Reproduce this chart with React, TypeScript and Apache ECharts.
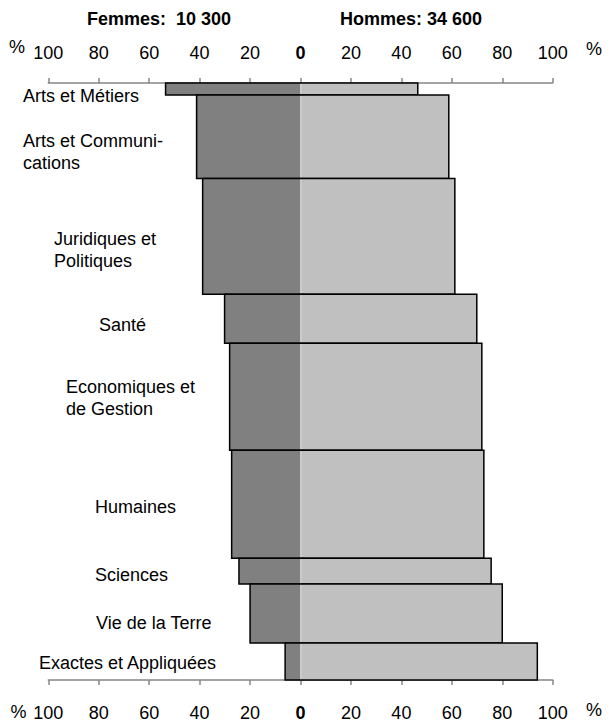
import React, { useEffect, useRef } from "react";
import * as echarts from "echarts";

// ---- data ----
const categories = [
  "Arts et Métiers",
  "Arts et Communi-\ncations",
  "Juridiques et\nPolitiques",
  "Santé",
  "Economiques et\nde Gestion",
  "Humaines",
  "Sciences",
  "Vie de la Terre",
  "Exactes et Appliquées",
];
// share of total (bar thickness, %)
const shares = [2.0, 14.0, 19.4, 8.2, 17.9, 18.1, 4.3, 9.9, 6.2];
// women % (left) and men % (right)
const women = [53.5, 41.2, 38.8, 30.1, 28.1, 27.3, 24.4, 20.0, 6.1];
const men = [46.5, 58.8, 61.2, 69.9, 71.9, 72.7, 75.6, 80.0, 93.9];
const titleWomen = "Femmes:  10 300";
const titleMen = "Hommes: 34 600";
const axisMin = -100;
const axisMax = 100;
const axisStep = 20;

// ---- layout (pixels) ----
const labelX = [23, 23, 54, 99, 66, 95, 95, 96, 39];
const labelDy = [7, 15.7, 13.5, 6.5, 1.5, 3, 4, 9.5, 1.5];

const FONT = '"Liberation Sans", Arial, Helvetica, sans-serif';

export default function App() {
  const ref = useRef<HTMLDivElement>(null);
  useEffect(() => {
    if (!ref.current) return;
    const chart = echarts.init(ref.current, undefined, { renderer: "svg" });
    const starts: number[] = [];
    let acc = 0;
    shares.forEach((s) => {
      starts.push(acc);
      acc += s;
    });
    const data = shares.map((s, i) => [starts[i], s, women[i], men[i]]);

    const labelFmt = (v: number) => (v === 0 ? "{b|0}" : String(Math.abs(v)));
    const mkAxis = (pos: "top" | "bottom", margin: number) => ({
      type: "value",
      position: pos,
      gridIndex: 0,
      min: axisMin,
      max: axisMax,
      interval: axisStep,
      axisLine: { show: true, onZero: false, lineStyle: { color: "#878787", width: 1.5 } },
      axisTick: { show: true, inside: false, length: 5, lineStyle: { color: "#878787", width: 1.5 } },
      splitLine: { show: false },
      axisLabel: {
        margin,
        formatter: labelFmt,
        fontSize: 18,
        fontFamily: FONT,
        color: "#000",
        rich: { b: { fontSize: 18, fontFamily: FONT, fontWeight: "bold", color: "#000" } },
      },
    });

    chart.setOption({
      animation: false,
      grid: { left: 48.3, right: 59.3, top: 83, bottom: 41, containLabel: false },
      xAxis: [mkAxis("top", 21), mkAxis("bottom", 24)],
      yAxis: { type: "value", min: 0, max: 100, inverse: true, show: false },
      graphic: [
        { type: "text", x: 87, y: 18.5, style: { text: titleWomen, fontSize: 18, fontWeight: "bold", fontFamily: FONT, fill: "#000", verticalAlign: "middle" } },
        { type: "text", x: 340, y: 18.5, style: { text: titleMen, fontSize: 18, fontWeight: "bold", fontFamily: FONT, fill: "#000", verticalAlign: "middle" } },
        { type: "text", x: 17, y: 47, style: { text: "%", fontSize: 18, fontFamily: FONT, fill: "#000", align: "center", verticalAlign: "middle" } },
        { type: "text", x: 594, y: 48.5, style: { text: "%", fontSize: 18, fontFamily: FONT, fill: "#000", align: "center", verticalAlign: "middle" } },
        { type: "text", x: 18.5, y: 711.5, style: { text: "%", fontSize: 18, fontFamily: FONT, fill: "#000", align: "center", verticalAlign: "middle" } },
        { type: "text", x: 594, y: 710, style: { text: "%", fontSize: 18, fontFamily: FONT, fill: "#000", align: "center", verticalAlign: "middle" } },
      ],
      series: [
        {
          type: "custom",
          xAxisIndex: 0,
          yAxisIndex: 0,
          clip: false,
          data,
          renderItem: (params: any, api: any) => {
            const i = params.dataIndex;
            const y0 = api.value(0);
            const h = api.value(1);
            const w = api.value(2);
            const m = api.value(3);
            const pL = api.coord([-w, y0]);
            const p0 = api.coord([0, y0]);
            const pR = api.coord([m, y0 + h]);
            const top = pL[1];
            const bottom = pR[1];
            const hh = bottom - top;
            return {
              type: "group",
              children: [
                { type: "rect", shape: { x: pL[0], y: top, width: p0[0] - pL[0], height: hh }, style: { fill: "#808080" } },
                { type: "rect", shape: { x: p0[0], y: top, width: pR[0] - p0[0], height: hh }, style: { fill: "#C0C0C0" } },
                { type: "line", shape: { x1: p0[0] + 0.5, y1: top, x2: p0[0] + 0.5, y2: bottom }, style: { stroke: "#d6d6d6", lineWidth: 1 } },
                { type: "rect", shape: { x: pL[0], y: top, width: pR[0] - pL[0], height: hh }, style: { fill: "none", stroke: "#000", lineWidth: 1.5 } },
                {
                  type: "text",
                  style: {
                    text: categories[i],
                    x: labelX[i],
                    y: (top + bottom) / 2 + labelDy[i],
                    fontSize: 18,
                    fontFamily: FONT,
                    fill: "#000",
                    align: "left",
                    verticalAlign: "middle",
                    lineHeight: 22,
                  },
                },
              ],
            };
          },
        },
      ],
    });
    return () => chart.dispose();
  }, []);
  return <div ref={ref} style={{ position: "absolute", left: 0, top: 0, width: 612, height: 722 }} />;
}
